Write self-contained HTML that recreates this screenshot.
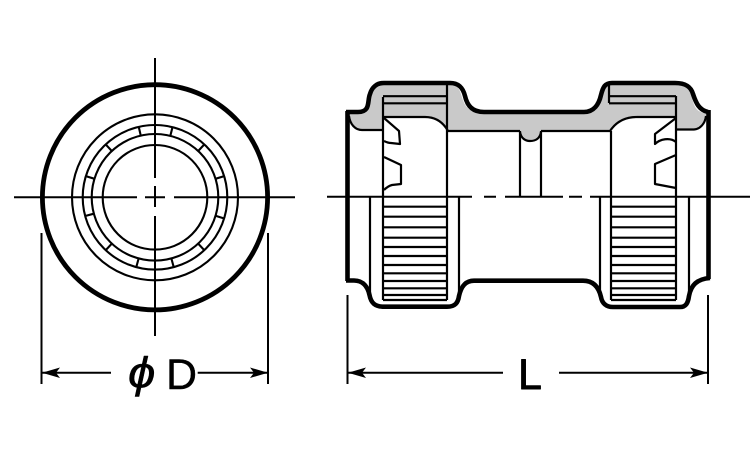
<!DOCTYPE html>
<html>
<head>
<meta charset="utf-8">
<style>
html,body{margin:0;padding:0;background:#fff;width:750px;height:450px;overflow:hidden}
svg{display:block}
text{font-family:"Liberation Sans",sans-serif;fill:#000}
</style>
</head>
<body>
<svg width="750" height="450" viewBox="0 0 750 450" fill="none" stroke="#000" stroke-linecap="butt" stroke-linejoin="round">
<!-- Left view -->
<circle cx="155" cy="197.3" r="112.6" stroke-width="4.8"/>
<g stroke-width="2.1">
<circle cx="155" cy="197.3" r="83"/>
<circle cx="155" cy="197.3" r="72.3"/>
<circle cx="155" cy="197.3" r="63.3"/>
<circle cx="155" cy="197.3" r="52.3"/>
<path transform="rotate(-13 155 197.3)" d="M155 124.5V134.5"/>
<path transform="rotate(-43 155 197.3)" d="M155 124.5V134.5"/>
<path transform="rotate(-73 155 197.3)" d="M155 124.5V134.5"/>
<path transform="rotate(-105 155 197.3)" d="M155 124.5V134.5"/>
<path transform="rotate(-137 155 197.3)" d="M155 124.5V134.5"/>
<path transform="rotate(-165 155 197.3)" d="M155 124.5V134.5"/>
<path transform="rotate(14 155 197.3)" d="M155 124.5V134.5"/>
<path transform="rotate(43 155 197.3)" d="M155 124.5V134.5"/>
<path transform="rotate(73 155 197.3)" d="M155 124.5V134.5"/>
<path transform="rotate(107 155 197.3)" d="M155 124.5V134.5"/>
<path transform="rotate(137 155 197.3)" d="M155 124.5V134.5"/>
<path transform="rotate(165 155 197.3)" d="M155 124.5V134.5"/>
</g>
<path d="M155 58V178M155 186V207M155 216V336M14 197.3H137M145 197.3H165M174 197.3H295" stroke-width="2"/>
<!-- dimension D -->
<path d="M41.5 233V384M268 233V384M42 372.7H111M197.7 372.7H268" stroke-width="2"/>
<path d="M42 372.7L60 367.5L56 372.7L60 378Z M268 372.7L250 367.5L254 372.7L250 378Z" fill="#000" stroke="none"/>
<text transform="translate(128 387.5) scale(1.12 1)" font-size="44" font-style="italic" stroke="#000" stroke-width="0.5">ϕ</text>
<text x="166" y="389" font-size="43" stroke="#000" stroke-width="0.4">D</text>

<!-- Right view grey fill -->
<path d="M349 113H358C372 113 367 83 384 83H448C468 83 455 112 480 112H585C606 112 592 83 612 83H675C700 83 685 112 706 113C708 122 702 129 692 129H676V117H635C622 117 615 124 610 131H541C541 138 536 141 530 141C524 141 520 138 520 131H448C442 122 435 117 425 117H383V130H360C352 129 348 122 349 113Z" fill="#c9c9c9" stroke="none"/>

<!-- Outline -->
<path d="M347.5 111V281" stroke-width="4.6"/>
<path d="M708.5 110V279" stroke-width="4.6"/>
<path d="M346 112H358C371 112 367 101 370 94C372 87 377 83 384 83H450C459 83 463 88 465 96C467 105 472 112 484 112H584C594 112 599 104 601 95C603 87 605 83 612 83H675C686 83 691 87 693 94C696 103 699 110 708 112" stroke-width="4.6"/>
<path d="M346 280.5H354C364 280.5 368 288 369.5 295C371 303 375 306.7 384 306.7H447C455 306.7 458 303 459 296C461 287 465 280.7 474 280.7H583C594 280.7 599 288 601 297C602 303 606 307 613 307H680C686 307 688 303 689 296C691 285 697 279 710 278" stroke-width="4.6"/>

<!-- Inner lines -->
<g stroke-width="2.2">
<path d="M349 116C350 124 355 130 362 130H383"/>
<path d="M383 97V300M447 83V300"/>
<path d="M383 96.2H447M383 103.3H447"/>
<path d="M383 117H425C435 117 443 122 448 131H520"/>
<path d="M520 131V197M541 131V197"/>
<path d="M541 131H610C616 122 625 117 637 117H676"/>
<path d="M609 83V103M609 96.2H676M609 103.3H676"/>
<path d="M611 131V300M676 96V300"/>
<path d="M676 129.5H694C700 129 705 124 706 116"/>
<path d="M520 132C521 138 525 141 530 141C536 141 540 138 541 132"/>
<path d="M370 197V297M459 197V297M600 197V297M689 197V297"/>
<!-- left teeth -->
<path d="M384 118L399 131L400 144L391 143C388 143 386 142 384 141M384 157L401 165V184L392 185C388 186 386 188 384 190"/>
<!-- right teeth -->
<path d="M676 118L655 134V144C660 139 670 137 676 142M676 155L662 161L655 164V184L676 188"/>
<!-- hatching left & right -->
<path d="M383 206.7H447M383 216.7H447M383 227.3H447M383 237.7H447M383 247H447M383 256H447M383 265H447M383 273.3H447M383 281H447M383 288.3H447M383 295H447M383 300H447"/>
<path d="M611 206.7H676M611 216.7H676M611 227.3H676M611 237.7H676M611 247H676M611 256H676M611 265H676M611 273.3H676M611 281H676M611 288.3H676M611 295H676M611 300H676"/>
</g>
<!-- centre line -->
<path d="M327 196.7H472M484 196.7H496M505 196.7H563M569 196.7H582M590 196.7H750" stroke-width="2"/>

<!-- dimension L -->
<path d="M347.5 295V384M708 295V384M348 372.7H503M559 372.7H708" stroke-width="2"/>
<path d="M348 372.7L366 367.5L362 372.7L366 378Z M708 372.7L690 367.5L694 372.7L690 378Z" fill="#000" stroke="none"/>
<text x="518" y="389" font-size="43" stroke="#000" stroke-width="0.9">L</text>
</svg>
</body>
</html>
